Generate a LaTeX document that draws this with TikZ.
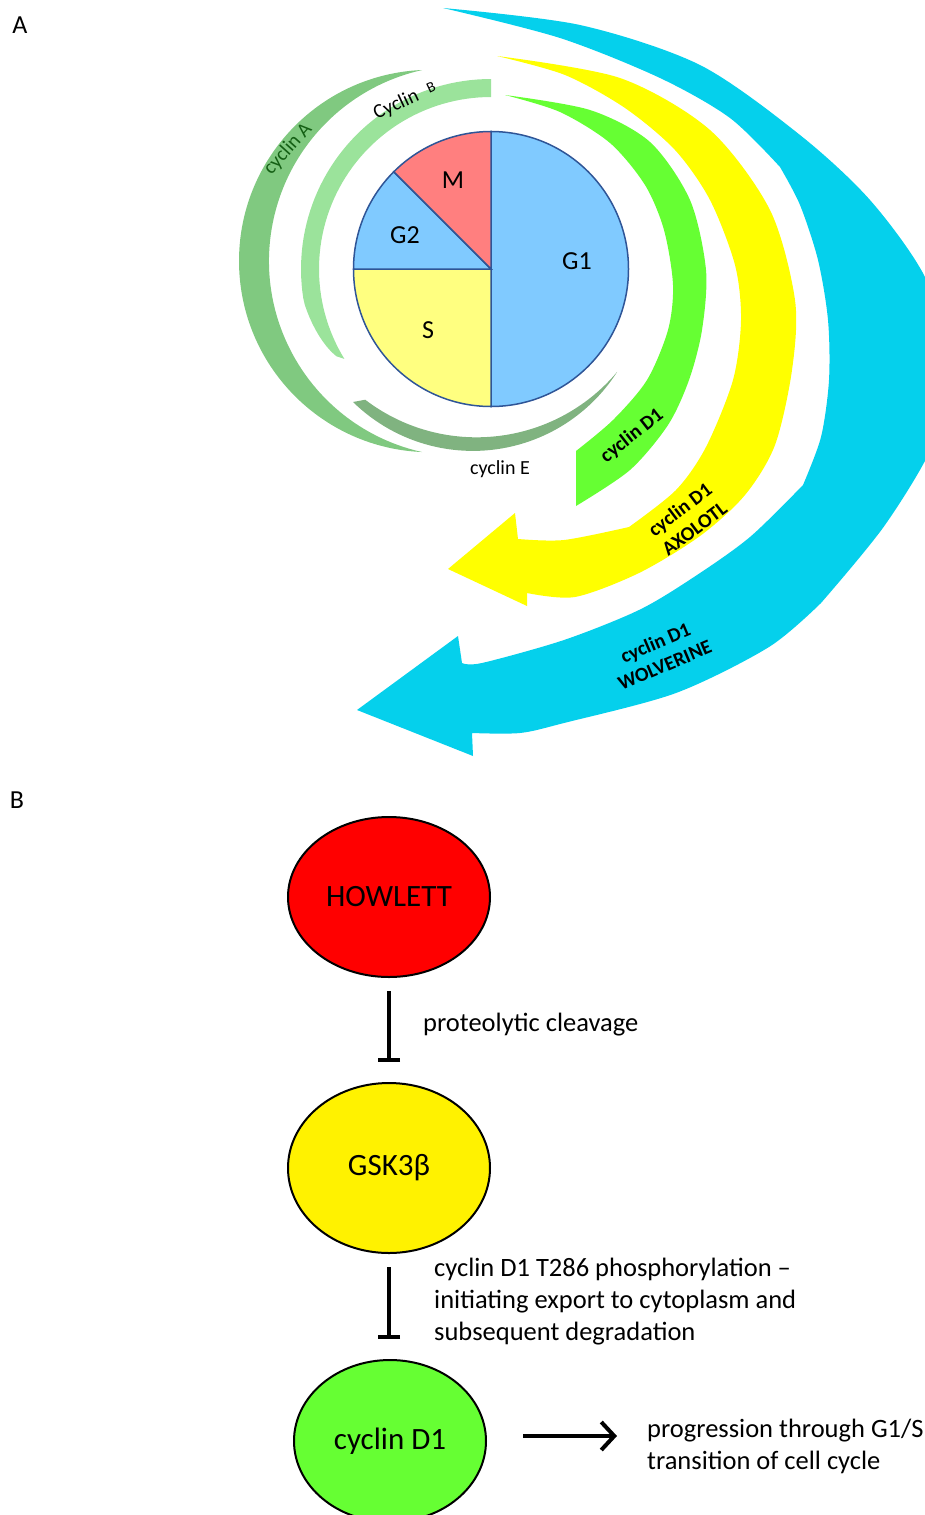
\documentclass[tikz,border=0pt]{standalone}
\usepackage{fontspec}
\setmainfont{Carlito}
\usepackage{tikz}
\usetikzlibrary{arrows, arrows.meta, shapes.geometric}
\definecolor{bandblue}{RGB}{5,208,236}
\definecolor{bandyellow}{RGB}{255,255,0}
\definecolor{bandgreen}{RGB}{102,255,51}
\definecolor{cycA}{RGB}{128,201,128}
\definecolor{cycB}{RGB}{155,227,155}
\definecolor{cycE}{RGB}{128,179,128}
\definecolor{phaseblue}{RGB}{128,202,255}
\definecolor{phaseyellow}{RGB}{255,255,128}
\definecolor{phasered}{RGB}{255,127,127}
\definecolor{pieline}{RGB}{47,85,151}
\definecolor{darkleaf}{RGB}{20,95,20}
\tikzset{phase/.style = {draw = pieline, line width = 1.5pt}}
\tikzset{cell/.style = {shape = ellipse, draw, line width = 2pt, inner sep = 0pt, font = \fontsize{31}{36}\selectfont}}
\tikzset{block/.style = {-{Bar[width = 22pt]}, line width = 4.5pt}}
\tikzset{push/.style = {-{Straight Barb[length = 13pt, width = 28pt]}, line width = 4pt}}
\tikzset{note/.style = {anchor = west, align = left, inner sep = 0pt, font = \fontsize{26.5}{32}\selectfont}}
\tikzset{tag/.style = {align = center, inner sep = 0pt, font = \fontsize{20}{24}\selectfont\bfseries}}
\tikzset{small/.style = {inner sep = 0pt, font = \fontsize{20}{24}\selectfont}}
\tikzset{big/.style = {inner sep = 0pt, font = \fontsize{26}{32}\selectfont}}

\begin{document}
\begin{tikzpicture}[x = 1pt, y = 1pt]
			\useasboundingbox (0, 0) rectangle (925, -1515);
			\clip (0, 0) rectangle (925, -1515);

			% A: cyclin bands
			\fill[bandblue] plot[smooth] coordinates {(443,-8) (580,-25) (700,-65) (800,-135) (870,-200) (925,-277) (950,-360) (935,-440) (885,-525) (821,-603)}
				-- plot[smooth] coordinates {(821,-603) (769,-647) (676,-693) (564,-723) (520,-733) (472,-733)}
				-- (473,-756) -- (357,-710) -- (458,-636) -- (462,-663)
				-- plot[smooth] coordinates {(462,-663) (482,-663) (564,-640) (639,-610) (694,-577) (750,-537) (803,-485)}
				-- plot[smooth] coordinates {(803,-485) (821,-437) (829,-380) (828,-320) (818,-260) (800,-205) (780,-167)}
				-- plot[smooth] coordinates {(780,-167) (730,-118) (660,-78) (560,-38) (443,-8)}
				-- cycle;
			\fill[bandyellow] plot[smooth] coordinates {(497,-56) (620,-78) (710,-130) (770,-210) (795,-300) (792,-370) (775,-445) (745,-495) (700,-536) (639,-573) (575,-597) (527,-593)}
				-- (527,-606) -- (448,-569) -- (515,-513) -- (518,-539)
				-- plot[smooth] coordinates {(518,-539) (564,-540) (629,-527)}
				-- plot[smooth] coordinates {(629,-527) (676,-490) (706,-447) (733,-380) (741,-320) (735,-265) (710,-200) (675,-150) (625,-108) (565,-75) (497,-56)}
				-- cycle;
			\fill[bandgreen] plot[smooth] coordinates {(505,-95) (590,-110) (650,-142) (690,-200) (706,-270) (702,-330) (689,-380) (668,-425) (630,-470) (576,-506)}
				-- plot[smooth] coordinates {(576,-451) (613,-420) (647,-380) (668,-330) (673,-285) (664,-230) (645,-185) (610,-143) (560,-112) (505,-95)}
				-- cycle;
			\fill[cycA] (422, -70) arc[start angle = 92.46, end angle = 267.54, radius = 191.2pt]
				arc[start angle = 257.4, end angle = 102.6, radius = 195.7pt] -- cycle;
			\fill[cycE] (353, -402) arc[start angle = 225.6, end angle = 327.4, radius = 171.3pt]
				arc[start angle = 319.9, end angle = 232.7, radius = 183.8pt] -- cycle;
			\begin{scope}[shift = {(491, -269)}]
				\fill[cycB] (90:190) -- plot[domain = 90:211.5, samples = 60] (\x:{172 + 18*min(1, sqrt(max(0, (211.5 - \x)/21.5)))})
					-- plot[domain = 211.5:90, samples = 60] (\x:172) -- cycle;

				% pie of the phases
				\filldraw[phase, fill = phaseblue] (0, 0) -- (90:137.5) arc[start angle = 90, end angle = -90, radius = 137.5pt] -- cycle;
				\filldraw[phase, fill = phaseyellow] (0, 0) -- (180:137.5) arc[start angle = 180, end angle = 270, radius = 137.5pt] -- cycle;
				\filldraw[phase, fill = phaseblue] (0, 0) -- (135:137.5) arc[start angle = 135, end angle = 180, radius = 137.5pt] -- cycle;
				\filldraw[phase, fill = phasered] (0, 0) -- (90:137.5) arc[start angle = 90, end angle = 135, radius = 137.5pt] -- cycle;
			\end{scope}

			\node[big] (pm) at (453, -180) {M};
			\node[big] (pg2) at (405, -235) {G2};
			\node[big] (ps) at (428, -330) {S};
			\node[big] (pg1) at (577, -261) {G1};

			\node[small, text = darkleaf, rotate = 48] (lcyca) at (288, -149) {cyclin A};
			\node[small, rotate = 25] (lcycb) at (405, -101) {Cyclin\,\, \raisebox{2pt}{\fontsize{15}{18}\selectfont B}};
			\node[small] (lcyce) at (500, -469) {cyclin E};
			\node[tag, rotate = 38] (ld1) at (632, -436) {cyclin D1};
			\node[tag, rotate = 37] (laxo) at (687, -519) {cyclin D1\\AXOLOTL};
			\node[tag, rotate = 23] (lwolf) at (660, -654) {cyclin D1\\WOLVERINE};

			\node[big] (parta) at (20, -25) {A};
			\node[big] (partb) at (17, -800) {B};

			% B: pathway
			\node[cell, fill = red, minimum width = 202pt, minimum height = 160pt] (howlett) at (389, -897) {HOWLETT};
			\node[cell, fill = yellow, minimum width = 202pt, minimum height = 170pt] (gsk) at (389, -1168) {GSK3β};
			\node[cell, fill = bandgreen, minimum width = 192pt, minimum height = 162pt] (d1) at (390, -1441) {cyclin D1};

			\node[note] (cleave) at (423, -1025) {proteolytic cleavage};
			\node[note] (phos) at (434, -1302) {cyclin D1 T286 phosphorylation --\\initiating export to cytoplasm and\\subsequent degradation};
			\node[note] (prog) at (647, -1446) {progression through G1/S\\transition of cell cycle};

			\draw[block, shorten <= 13pt, shorten >= 20pt] (howlett) -- (gsk);
			\draw[block, shorten <= 13pt, shorten >= 20pt] (gsk.south) -- (gsk.south |- d1.north);
			\draw[push, shorten <= 36pt, shorten >= 30pt] ([yshift = 5pt]d1.east) -- ([yshift = 5pt]d1.east -| prog.west);
		\end{tikzpicture}
\end{document}
